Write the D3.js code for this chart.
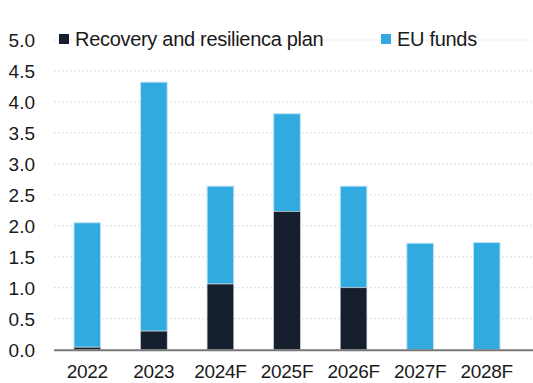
<!DOCTYPE html>
<html>
<head>
<meta charset="utf-8">
<script src="https://cdn.jsdelivr.net/npm/d3@7"></script>
<style>
  body { margin: 0; background: #fff; }
  text { font-family: "Liberation Sans", Arial, sans-serif; }
</style>
</head>
<body>
<div id="chart"></div>
<script>
const years = ["2022", "2023", "2024F", "2025F", "2026F", "2027F", "2028F"];
const recovery = [0.04, 0.30, 1.06, 2.23, 1.00, 0, 0];
const euFunds = [2.01, 4.02, 1.58, 1.58, 1.64, 1.72, 1.73];
const yTicks = [0, 0.5, 1, 1.5, 2, 2.5, 3, 3.5, 4, 4.5, 5];

const W = 533, H = 383;
const margin = { top: 40, right: 0, bottom: 33, left: 54 };

const svg = d3.select("#chart").append("svg")
  .attr("width", W).attr("height", H);

const x = d3.scaleBand().domain(years)
  .range([margin.left, 520]).paddingInner(0.6).paddingOuter(0.3);
const y = d3.scaleLinear().domain([0, 5]).range([H - margin.bottom - 0.3, margin.top]);

// gridlines
svg.append("g").selectAll("line").data(yTicks.slice(1)).join("line")
  .attr("x1", margin.left).attr("x2", W)
  .attr("y1", d => y(d)).attr("y2", d => y(d))
  .attr("stroke", "#dcdcdc").attr("stroke-width", 1).attr("stroke-dasharray", "2,2");

// y labels
svg.append("g").selectAll("text").data(yTicks).join("text")
  .attr("x", 35).attr("y", d => y(d)).attr("dy", "0.36em")
  .attr("text-anchor", "end").attr("font-size", 19).attr("fill", "#1a1a1a")
  .text(d => d.toFixed(1));

const stacked = years.map((yr, i) => ({ yr, a: recovery[i], b: euFunds[i] }));

// bars
const bars = svg.append("g");
bars.selectAll(".eu").data(stacked).join("rect")
  .attr("x", d => x(d.yr)).attr("width", x.bandwidth())
  .attr("y", d => y(d.a + d.b)).attr("height", d => y(d.a) - y(d.a + d.b))
  .attr("fill", "#31aae0").attr("stroke", "#bfe4f6").attr("stroke-width", 1);
bars.selectAll(".rr").data(stacked.filter(d => d.a > 0)).join("rect")
  .attr("x", d => x(d.yr)).attr("width", x.bandwidth())
  .attr("y", d => y(d.a)).attr("height", d => y(0) - y(d.a))
  .attr("fill", "#161f2e").attr("stroke", "#c8ccd2").attr("stroke-width", 0.6);

// x axis line
svg.append("line")
  .attr("x1", margin.left).attr("x2", W)
  .attr("y1", y(0) + 0.5).attr("y2", y(0) + 0.5)
  .attr("stroke", "#777").attr("stroke-width", 2);

// x labels
svg.append("g").selectAll("text").data(years).join("text")
  .attr("x", d => x(d) + x.bandwidth() / 2).attr("y", 378)
  .attr("text-anchor", "middle").attr("font-size", 19).attr("fill", "#1a1a1a")
  .attr("letter-spacing", "-0.3")
  .text(d => d);

// legend
const legend = [
  { label: "Recovery and resilienca plan", color: "#161f2e", x: 59 },
  { label: "EU funds", color: "#31aae0", x: 381 }
];
const lg = svg.append("g").selectAll("g").data(legend).join("g")
  .attr("transform", d => `translate(${d.x},34)`);
lg.append("rect").attr("width", 10).attr("height", 10).attr("fill", d => d.color);
lg.append("text").attr("x", 16).attr("y", 11.5)
  .attr("font-size", 20).attr("fill", "#1a1a1a").attr("letter-spacing", "-0.3")
  .text(d => d.label);
</script>
</body>
</html>
